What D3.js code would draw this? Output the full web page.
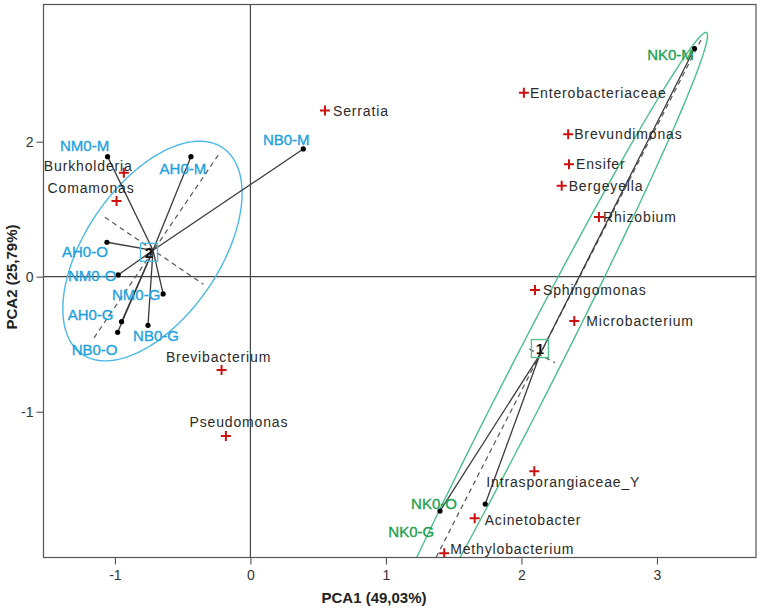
<!DOCTYPE html>
<html>
<head>
<meta charset="utf-8">
<script src="https://cdn.jsdelivr.net/npm/d3@7"></script>
<style>
  body { margin: 0; background: #fff; }
  svg { display: block; font-family: "Liberation Sans", Arial, sans-serif; }
</style>
</head>
<body>
<svg id="chart" width="762" height="611"></svg>
<script>
// values (y tick printed "2" sits at one unit above 0)
const xTicks = [-1, 0, 1, 2, 3];
const yTicks = [1, 0, -1];
const yTickLabels = ["2", "0", "-1"];

const samples = [
  { name: "NM0-M", cluster: "2", x: -1.054, y: 0.889 },
  { name: "AH0-M", cluster: "2", x: -0.439, y: 0.889 },
  { name: "NB0-M", cluster: "2", x: 0.390, y: 0.946 },
  { name: "AH0-O", cluster: "2", x: -1.059, y: 0.255 },
  { name: "NM0-O", cluster: "2", x: -0.976, y: 0.013 },
  { name: "NM0-G", cluster: "2", x: -0.644, y: -0.128 },
  { name: "AH0-G", cluster: "2", x: -0.951, y: -0.333 },
  { name: "NB0-O", cluster: "2", x: -0.980, y: -0.412 },
  { name: "NB0-G", cluster: "2", x: -0.756, y: -0.360 },
  { name: "NK0-M", cluster: "1", x: 3.277, y: 1.690 },
  { name: "NK0-O", cluster: "1", x: 1.399, y: -1.736 },
  { name: "NK0-G", cluster: "1", x: 1.733, y: -1.684 }
];

const species = [
  { name: "Serratia", x: 0.550, y: 1.230 },
  { name: "Enterobacteriaceae", x: 2.018, y: 1.363 },
  { name: "Brevundimonas", x: 2.345, y: 1.055 },
  { name: "Ensifer", x: 2.351, y: 0.833 },
  { name: "Bergeyella", x: 2.297, y: 0.674 },
  { name: "Rhizobium", x: 2.572, y: 0.442 },
  { name: "Sphingomonas", x: 2.100, y: -0.099 },
  { name: "Microbacterium", x: 2.390, y: -0.328 },
  { name: "Intrasporangiaceae_Y", x: 2.095, y: -1.441 },
  { name: "Acinetobacter", x: 1.655, y: -1.790 },
  { name: "Methylobacterium", x: 1.430, y: -2.049 },
  { name: "Brevibacterium", x: -0.213, y: -0.691 },
  { name: "Pseudomonas", x: -0.181, y: -1.180 },
  { name: "Burkholderia", x: -0.934, y: 0.770 },
  { name: "Comamonas", x: -0.988, y: 0.561 }
];

const ellipses = [
  { cluster: "2", cx: -0.723, cy: 0.190, rx: 0.924, ry: 0.495, angle: 55.8 },
  { cluster: "1", cx: 2.017, cy: -0.839, rx: 2.971, ry: 0.161, angle: 63.0 }
];

const ellipseAxes = [
  { cluster: "2", x1: -0.237, y1: 0.901, x2: -1.165, y2: -0.469 },
  { cluster: "2", x1: -1.074, y1: 0.440, x2: -0.348, y2: -0.056 },
  { cluster: "1", x1: 3.325, y1: 1.753, x2: 1.219, y2: -2.375 },
  { cluster: "1", x1: 2.058, y1: -0.536, x2: 2.247, y2: -0.637 }
];

const xTitle = "PCA1 (49,03%)";
const yTitle = "PCA2 (25,79%)";

// layout / style
const clusterColor = { "2": "#4cb9e8", "1": "#4cc08a" };
const labelColor = { "2": "#1ea2df", "1": "#20a050" };
const boxShift = { "2": [-4, 2], "1": [0, -6] };

const sampleLabelOffset = {
  "NM0-M": [-23, -11], "AH0-M": [-8, 12], "NB0-M": [-17, -9],
  "AH0-O": [-22, 9], "NM0-O": [-26, 1], "NM0-G": [-27, 1],
  "AH0-G": [-31, -7], "NB0-O": [-23, 17], "NB0-G": [8, 10],
  "NK0-M": [-24, 6], "NK0-O": [-6, -7], "NK0-G": [-74, 28]
};

const speciesLabelOffset = {
  "Serratia": [8, 0, "start"], "Enterobacteriaceae": [6, 0, "start"],
  "Brevundimonas": [6, 0, "start"], "Ensifer": [7, 0, "start"],
  "Bergeyella": [7, 0, "start"], "Rhizobium": [4, 0, "start"],
  "Sphingomonas": [8, 0, "start"], "Microbacterium": [12, 0, "start"],
  "Intrasporangiaceae_Y": [-48, 11, "start"], "Acinetobacter": [10, 2, "start"],
  "Methylobacterium": [6, -4, "start"], "Brevibacterium": [-3, -13, "middle"],
  "Pseudomonas": [13, -14, "middle"], "Burkholderia": [-80, -7, "start"],
  "Comamonas": [-69, -13, "start"]
};

const plot = { left: 43.5, right: 756, top: 4.5, bottom: 557.5 };

const svg = d3.select('#chart');

const x = d3.scaleLinear().domain([-1.527, 3.731]).range([plot.left, plot.right]);
const y = d3.scaleLinear().domain([-2.080, 2.016]).range([plot.bottom, plot.top]);

svg.append('clipPath').attr('id', 'clip')
  .append('rect')
  .attr('x', plot.left).attr('y', plot.top)
  .attr('width', plot.right - plot.left).attr('height', plot.bottom - plot.top);

const g = svg.append('g').attr('clip-path', 'url(#clip)');

// zero lines
g.append('line')
  .attr('x1', x(0)).attr('x2', x(0)).attr('y1', plot.top).attr('y2', plot.bottom)
  .attr('stroke', '#444').attr('stroke-width', 1.2);
g.append('line')
  .attr('x1', plot.left).attr('x2', plot.right).attr('y1', y(0)).attr('y2', y(0))
  .attr('stroke', '#444').attr('stroke-width', 1.2);

// ellipses
const ellipseLine = d3.line().x(d => x(d[0])).y(d => y(d[1])).curve(d3.curveLinearClosed);
function ellipsePoints(e) {
  const a = e.angle * Math.PI / 180;
  return d3.range(0, 360, 2).map(t => {
    const r = t * Math.PI / 180;
    const u = e.rx * Math.cos(r), v = e.ry * Math.sin(r);
    return [e.cx + u * Math.cos(a) - v * Math.sin(a), e.cy + u * Math.sin(a) + v * Math.cos(a)];
  });
}
g.selectAll('path.ellipse')
  .data(ellipses)
  .enter()
  .append('path')
  .attr('class', 'ellipse')
  .attr('d', d => ellipseLine(ellipsePoints(d)))
  .attr('fill', 'none')
  .attr('stroke', d => clusterColor[d.cluster])
  .attr('stroke-width', 1.4);

// dashed ellipse axes
g.selectAll('line.axisdash')
  .data(ellipseAxes)
  .enter()
  .append('line')
  .attr('class', 'axisdash')
  .attr('x1', d => x(d.x1)).attr('y1', d => y(d.y1))
  .attr('x2', d => x(d.x2)).attr('y2', d => y(d.y2))
  .attr('stroke', '#555')
  .attr('stroke-width', 1.2)
  .attr('stroke-dasharray', '5,4');

// centroids
const centroids = d3.groups(samples, d => d.cluster).map(([k, v]) => ({
  cluster: k, x: d3.mean(v, d => d.x), y: d3.mean(v, d => d.y)
}));
const centroidOf = {};
centroids.forEach(c => { centroidOf[c.cluster] = c; });

// spokes
g.selectAll('line.spoke')
  .data(samples)
  .enter()
  .append('line')
  .attr('class', 'spoke')
  .attr('x1', d => x(centroidOf[d.cluster].x)).attr('y1', d => y(centroidOf[d.cluster].y))
  .attr('x2', d => x(d.x)).attr('y2', d => y(d.y))
  .attr('stroke', '#3a3a3a')
  .attr('stroke-width', 1.3);

g.selectAll('circle.dot')
  .data(samples)
  .enter()
  .append('circle')
  .attr('class', 'dot')
  .attr('cx', d => x(d.x)).attr('cy', d => y(d.y))
  .attr('r', 2.6)
  .attr('fill', '#000');

// centroid boxes
const box = g.selectAll('g.box')
  .data(centroids)
  .enter()
  .append('g')
  .attr('class', 'box')
  .attr('transform', d => `translate(${x(d.x) + boxShift[d.cluster][0]}, ${y(d.y) + boxShift[d.cluster][1]})`);
box.append('rect')
  .attr('x', -8.5).attr('y', -9).attr('width', 17).attr('height', 18)
  .attr('fill', 'none')
  .attr('stroke', d => clusterColor[d.cluster])
  .attr('stroke-width', 1.3);
box.append('text')
  .text(d => d.cluster)
  .attr('text-anchor', 'middle')
  .attr('dy', '0.36em')
  .attr('font-size', 15)
  .attr('font-weight', 'bold')
  .attr('fill', '#111');

// species crosses
const cross = g.selectAll('g.species')
  .data(species)
  .enter()
  .append('g')
  .attr('class', 'species')
  .attr('transform', d => `translate(${x(d.x)}, ${y(d.y)})`);
cross.append('path')
  .attr('d', 'M-5,0H5M0,-5V5')
  .attr('stroke', '#cc1010')
  .attr('stroke-width', 2);
cross.append('text')
  .text(d => d.name)
  .attr('x', d => speciesLabelOffset[d.name][0])
  .attr('y', d => speciesLabelOffset[d.name][1])
  .attr('dy', '0.36em')
  .attr('text-anchor', d => speciesLabelOffset[d.name][2])
  .attr('font-size', 14)
  .attr('letter-spacing', 0.85)
  .attr('fill', '#2a2a2a');

// sample labels
g.selectAll('text.sample')
  .data(samples)
  .enter()
  .append('text')
  .attr('class', 'sample')
  .text(d => d.name)
  .attr('x', d => x(d.x) + sampleLabelOffset[d.name][0])
  .attr('y', d => y(d.y) + sampleLabelOffset[d.name][1])
  .attr('dy', '0.36em')
  .attr('text-anchor', 'middle')
  .attr('font-size', 15)
  .attr('fill', d => labelColor[d.cluster])
  .attr('stroke', d => labelColor[d.cluster])
  .attr('stroke-width', 0.35);

// axes
const xAxis = svg.append('g')
  .attr('transform', `translate(0, ${plot.bottom})`)
  .call(d3.axisBottom(x).tickValues(xTicks).tickSize(7).tickPadding(6).tickFormat(d => String(d)));
const yAxis = svg.append('g')
  .attr('transform', `translate(${plot.left}, 0)`)
  .call(d3.axisLeft(y).tickValues(yTicks).tickSize(7).tickPadding(3)
    .tickFormat((d, i) => yTickLabels[i]));
[xAxis, yAxis].forEach(a => {
  a.select('.domain').remove();
  a.selectAll('line').attr('stroke', '#444');
  a.selectAll('text')
    .attr('font-size', 14)
    .attr('font-family', '"Liberation Sans", Arial, sans-serif')
    .attr('fill', '#333');
});

// frame
svg.append('rect')
  .attr('x', plot.left).attr('y', plot.top)
  .attr('width', plot.right - plot.left).attr('height', plot.bottom - plot.top)
  .attr('fill', 'none')
  .attr('stroke', '#555')
  .attr('stroke-width', 1.2);

// titles
svg.append('text')
  .text(xTitle)
  .attr('x', 374).attr('y', 598)
  .attr('dy', '0.36em')
  .attr('text-anchor', 'middle')
  .attr('font-size', 15)
  .attr('font-weight', 'bold')
  .attr('fill', '#222');
svg.append('text')
  .text(yTitle)
  .attr('transform', 'translate(12, 277) rotate(-90)')
  .attr('dy', '0.36em')
  .attr('text-anchor', 'middle')
  .attr('font-size', 15)
  .attr('font-weight', 'bold')
  .attr('fill', '#222');
</script>
</body>
</html>
